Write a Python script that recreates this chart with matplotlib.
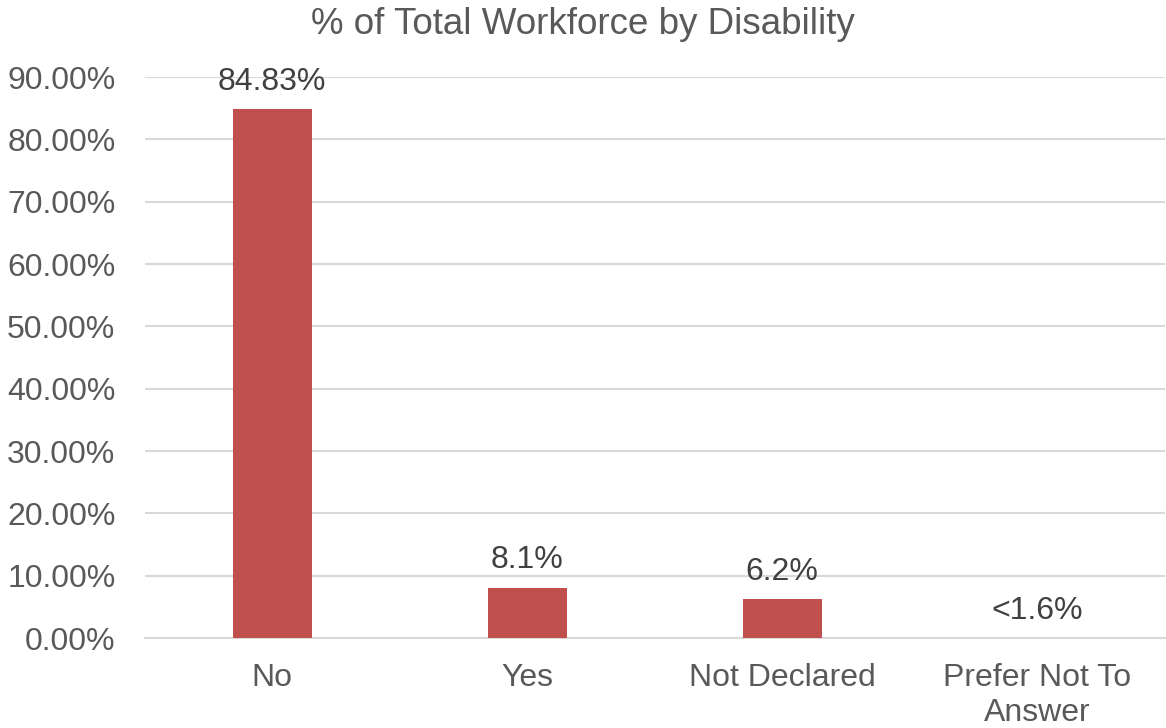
import numpy as np
import matplotlib.pyplot as plt

# data
categories = ['No', 'Yes', 'Not Declared', 'Prefer Not To\nAnswer']
values = [84.83, 8.1, 6.2, 0.0]
labels = ['84.83%', '8.1%', '6.2%', '<1.6%']

plt.rcParams['font.family'] = ['Liberation Sans', 'DejaVu Sans']
txt = '#595959'

fig = plt.figure(figsize=(11.66, 7.28), dpi=100)
ax = fig.add_axes([0.124, 0.1236, 0.875, 0.7706])

x = np.arange(len(categories))
bars = ax.bar(x, values, width=0.31, color='#c0504d', zorder=3)

ax.set_xlim(-0.5, len(categories) - 0.5)
ax.set_ylim(0, 90)
ax.set_yticks(np.arange(0, 91, 10))
ax.set_yticklabels(['%.2f%%' % v for v in np.arange(0, 91, 10)])
ax.set_xticks(x)
ax.set_xticklabels(categories, linespacing=1.22)

ax.grid(axis='y', color='#d9d9d9', linewidth=1.5, zorder=0)
for s in ['top', 'right', 'left']:
    ax.spines[s].set_visible(False)
ax.spines['bottom'].set_color('#d9d9d9')
ax.spines['bottom'].set_linewidth(1.5)
ax.tick_params(length=0, labelsize=23, colors=txt)
ax.tick_params(axis='x', pad=18)
ax.tick_params(axis='y', pad=21)

# data labels above each bar
for b, lab in zip(bars, labels):
    ax.text(b.get_x() + b.get_width() / 2, b.get_height() + 2.0, lab,
            ha='center', va='bottom', fontsize=23, color='#404040', clip_on=False)

fig.suptitle('% of Total Workforce by Disability', fontsize=26.5, color=txt, y=0.99)

fig.savefig('out.png', dpi=100)
